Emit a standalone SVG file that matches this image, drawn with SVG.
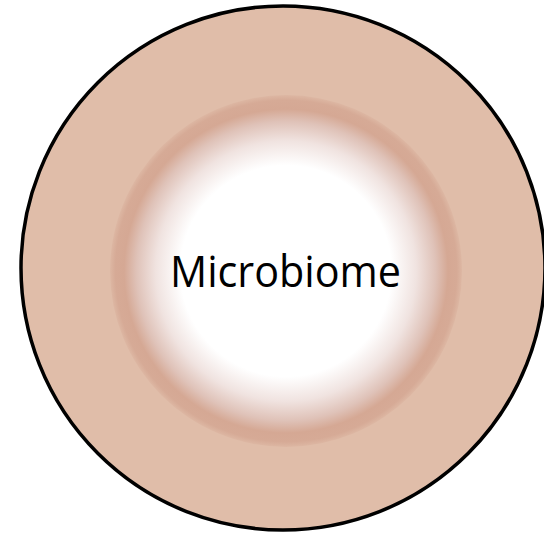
<svg xmlns="http://www.w3.org/2000/svg" width="544" height="538" viewBox="0 0 544 538">
  <defs>
    <radialGradient id="core" cx="0.5" cy="0.5" r="0.5">
      <stop offset="0" stop-color="#FFFFFF"/>
      <stop offset="0.6" stop-color="#FFFFFF"/>
      <stop offset="0.74" stop-color="#F0E3E0"/>
      <stop offset="0.85" stop-color="#DFC2B8"/>
      <stop offset="0.92" stop-color="#D5A894"/>
      <stop offset="0.97" stop-color="#D6AA96"/>
      <stop offset="1" stop-color="#DDB7A3"/>
    </radialGradient>
    <style>
      .outer { fill: #E0BDA9; stroke: #000000; stroke-width: 3.5; }
      .label { font-family: "Open Sans", "Liberation Sans", sans-serif; font-size: 44px; fill: #000000; }
    </style>
  </defs>
  <g id="outer-circle">
    <ellipse class="outer" cx="283" cy="268" rx="262" ry="262"/>
  </g>
  <g id="microbiome">
    <circle cx="286" cy="271" r="176" fill="url(#core)"/>
    <text class="label" x="285.5" y="287" text-anchor="middle" textLength="231" lengthAdjust="spacingAndGlyphs">Microbiome</text>
  </g>
</svg>
